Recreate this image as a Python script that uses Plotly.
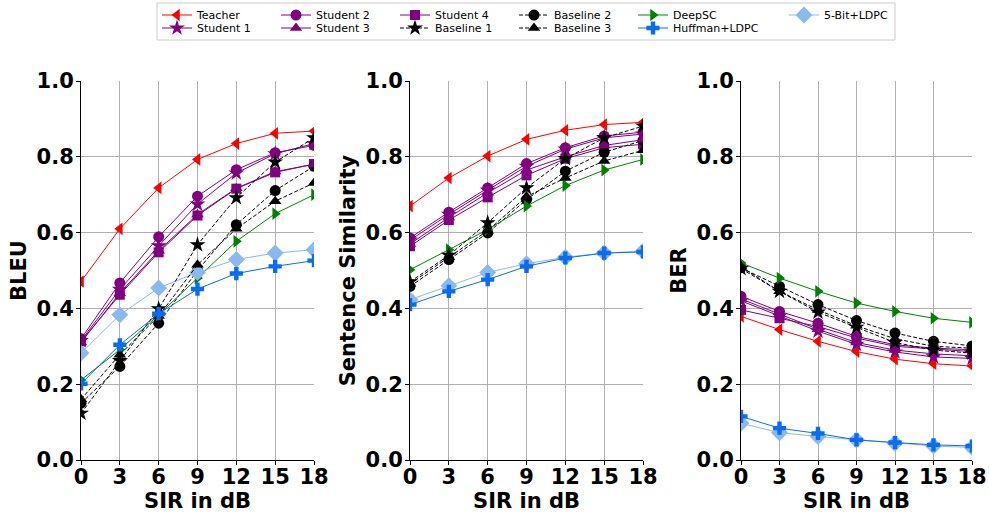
import plotly.graph_objects as go

sir = [0, 3, 6, 9, 12, 15, 18]
x_ticks = [0, 3, 6, 9, 12, 15, 18]
y_ticks = [0.0, 0.2, 0.4, 0.6, 0.8, 1.0]
y_tick_labels = ["0.0", "0.2", "0.4", "0.6", "0.8", "1.0"]

# BLEU
bleu_teacher = [0.471, 0.610, 0.718, 0.793, 0.835, 0.862, 0.868]
bleu_student1 = [0.315, 0.450, 0.565, 0.675, 0.757, 0.808, 0.835]
bleu_student2 = [0.320, 0.467, 0.589, 0.696, 0.766, 0.811, 0.830]
bleu_student3 = [0.310, 0.440, 0.552, 0.648, 0.717, 0.761, 0.780]
bleu_student4 = [0.313, 0.436, 0.548, 0.645, 0.716, 0.759, 0.781]
bleu_baseline1 = [0.123, 0.262, 0.399, 0.568, 0.692, 0.786, 0.850]
bleu_baseline2 = [0.150, 0.247, 0.361, 0.500, 0.621, 0.711, 0.775]
bleu_baseline3 = [0.160, 0.278, 0.380, 0.515, 0.610, 0.683, 0.731]
bleu_deepsc = [0.211, 0.291, 0.383, 0.480, 0.577, 0.650, 0.700]
bleu_huffman = [0.201, 0.304, 0.386, 0.451, 0.492, 0.511, 0.526]
bleu_5bit = [0.282, 0.383, 0.454, 0.495, 0.529, 0.546, 0.555]

# Sentence similarity
sim_teacher = [0.670, 0.744, 0.802, 0.846, 0.870, 0.885, 0.891]
sim_student1 = [0.580, 0.648, 0.712, 0.775, 0.820, 0.850, 0.860]
sim_student2 = [0.586, 0.654, 0.718, 0.782, 0.824, 0.855, 0.865]
sim_student3 = [0.570, 0.640, 0.705, 0.765, 0.800, 0.830, 0.845]
sim_student4 = [0.564, 0.633, 0.693, 0.751, 0.795, 0.824, 0.833]
sim_baseline1 = [0.470, 0.540, 0.626, 0.718, 0.795, 0.850, 0.881]
sim_baseline2 = [0.458, 0.529, 0.599, 0.687, 0.762, 0.812, 0.843]
sim_baseline3 = [0.465, 0.535, 0.605, 0.695, 0.744, 0.789, 0.817]
sim_deepsc = [0.502, 0.555, 0.608, 0.670, 0.724, 0.765, 0.793]
sim_huffman = [0.410, 0.445, 0.476, 0.511, 0.533, 0.546, 0.549]
sim_5bit = [0.423, 0.460, 0.495, 0.518, 0.535, 0.546, 0.551]

# BER
ber_teacher = [0.379, 0.344, 0.313, 0.286, 0.266, 0.254, 0.248]
ber_student1 = [0.420, 0.380, 0.340, 0.305, 0.285, 0.272, 0.268]
ber_student2 = [0.432, 0.392, 0.361, 0.326, 0.304, 0.295, 0.291]
ber_student3 = [0.425, 0.385, 0.345, 0.310, 0.290, 0.280, 0.275]
ber_student4 = [0.396, 0.374, 0.352, 0.322, 0.300, 0.293, 0.286]
ber_baseline1 = [0.505, 0.445, 0.390, 0.350, 0.310, 0.290, 0.282]
ber_baseline2 = [0.507, 0.458, 0.410, 0.368, 0.335, 0.313, 0.301]
ber_baseline3 = [0.510, 0.445, 0.396, 0.354, 0.320, 0.300, 0.295]
ber_deepsc = [0.520, 0.480, 0.445, 0.414, 0.392, 0.374, 0.363]
ber_huffman = [0.115, 0.084, 0.070, 0.053, 0.046, 0.040, 0.037]
ber_5bit = [0.097, 0.072, 0.062, 0.053, 0.044, 0.037, 0.033]

RED = "#ff0000"
PURPLE = "#800080"
BLACK = "#000000"
GREEN = "#008000"
BLUE = "#0a6cf0"
LBLUE = "#8cb8f0"

# (name, color, symbol, dash, legend block, bleu, sim, ber)
series = [
    ("Teacher", RED, "triangle-left", "solid", "legend", bleu_teacher, sim_teacher, ber_teacher),
    ("Student 2", PURPLE, "circle", "solid", "legend", bleu_student2, sim_student2, ber_student2),
    ("Student 4", PURPLE, "square", "solid", "legend", bleu_student4, sim_student4, ber_student4),
    ("Baseline 2", BLACK, "circle", "dash", "legend", bleu_baseline2, sim_baseline2, ber_baseline2),
    ("DeepSC", GREEN, "triangle-right", "solid", "legend", bleu_deepsc, sim_deepsc, ber_deepsc),
    ("5-Bit+LDPC", LBLUE, "diamond", "solid", "legend3", bleu_5bit, sim_5bit, ber_5bit),
    ("Student 1", PURPLE, "star", "solid", "legend2", bleu_student1, sim_student1, ber_student1),
    ("Student 3", PURPLE, "triangle-up", "solid", "legend2", bleu_student3, sim_student3, ber_student3),
    ("Baseline 1", BLACK, "star", "dash", "legend2", bleu_baseline1, sim_baseline1, ber_baseline1),
    ("Baseline 3", BLACK, "triangle-up", "dash", "legend2", bleu_baseline3, sim_baseline3, ber_baseline3),
    ("Huffman+LDPC", BLUE, "cross", "solid", "legend4", bleu_huffman, sim_huffman, ber_huffman),
]

size_map = {"triangle-left": 11, "circle": 11, "square": 10, "star": 12,
            "triangle-up": 11, "triangle-right": 11, "diamond": 13, "cross": 11}

fig = go.Figure()
for i, axn in enumerate(["", "2", "3"]):
    for name, color, sym, dash, leg, b, s, r in series:
        vals = [b, s, r][i]
        fig.add_trace(go.Scatter(
            x=sir, y=vals, mode="lines+markers", name=name,
            line=dict(color=color, width=1, dash="4px,2px" if dash == "dash" else "solid"),
            marker=dict(symbol=sym, size=size_map[sym], color=color, line=dict(width=0)),
            xaxis="x" + axn, yaxis="y" + axn,
            showlegend=(i == 0), legend=leg,
        ))

font_family = "DejaVu Sans"
tickfont = dict(family=font_family, size=21, color="black", weight="bold")
titlefont = dict(family=font_family, size=21, color="black", weight="bold")
legfont = dict(family=font_family, size=11, color="black")

W, H = 989, 514
xdoms = [[81 / W, 314 / W], [410 / W, 643 / W], [741 / W, 972 / W]]
ydom = [1 - 460 / H, 1 - 81 / H]
ytitles = ["BLEU", "Sentence Similarity", "BER"]


def leg(xpx, ypx):
    return dict(
        orientation="h", x=xpx / W, y=1 - ypx / H, xanchor="left", yanchor="middle",
        font=legfont, borderwidth=0, bgcolor="rgba(0,0,0,0)",
        entrywidth=74, entrywidthmode="pixels", tracegroupgap=0,
    )


layout = dict(
    width=W, height=H,
    margin=dict(l=0, r=0, t=0, b=0, autoexpand=False),
    paper_bgcolor="white", plot_bgcolor="white",
    font=dict(family=font_family, color="black"),
    legend=leg(157, 15),
    legend2=leg(157, 28),
    legend3=leg(784, 15),
    legend4=dict(leg(633, 28), entrywidth=110),
    shapes=[dict(type="rect", xref="paper", yref="paper",
                 x0=157 / W, x1=895 / W, y0=1 - 40 / H, y1=1 - 3 / H,
                 line=dict(color="#cccccc", width=1), fillcolor="white", layer="below")],
)
for i, axn in enumerate(["", "2", "3"]):
    layout["xaxis" + axn] = dict(
        domain=xdoms[i], anchor="y" + axn, range=[0, 18], automargin=False,
        tickvals=x_ticks, ticktext=[str(v) for v in x_ticks],
        tickfont=tickfont, title=dict(text="SIR in dB", font=titlefont, standoff=0),
        ticklabelstandoff=-6,
        showline=True, linecolor="black", linewidth=1, mirror=False,
        ticks="outside", ticklen=4, tickcolor="black",
        showgrid=True, gridcolor="#b0b0b0", gridwidth=1, zeroline=False,
    )
    layout["yaxis" + axn] = dict(
        domain=ydom, anchor="x" + axn, range=[0, 1], automargin=False,
        tickvals=y_ticks, ticktext=y_tick_labels,
        tickfont=tickfont, title=dict(text=ytitles[i], font=titlefont, standoff=4),
        ticklabelstandoff=-2,
        showline=True, linecolor="black", linewidth=1, mirror=False,
        ticks="outside", ticklen=4, tickcolor="black",
        showgrid=True, gridcolor="#b0b0b0", gridwidth=1, zeroline=False,
    )
fig.update_layout(**layout)
fig.write_html("out.html", config={"displayModeBar": False},
               post_script="document.body.style.margin='0px';")
